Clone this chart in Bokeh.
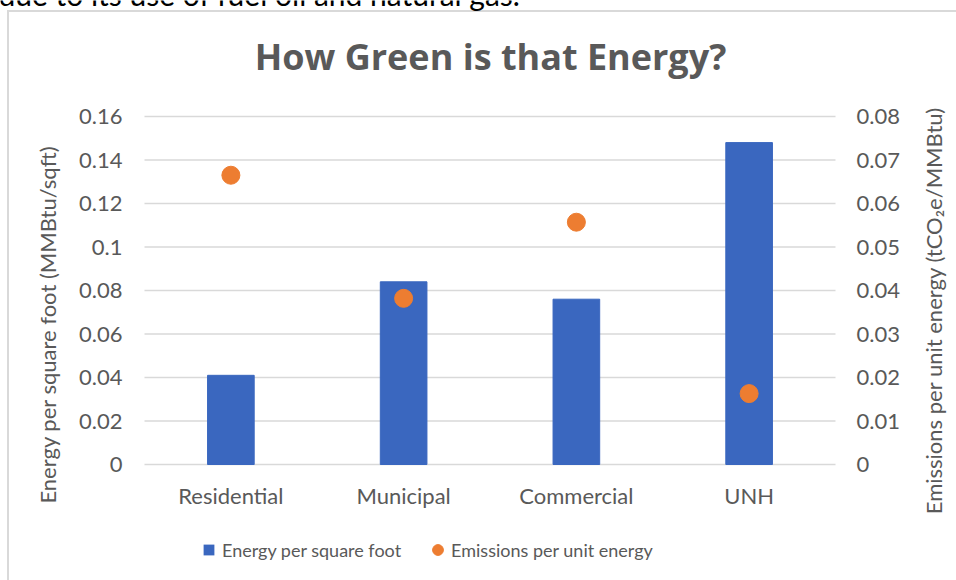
from bokeh.plotting import figure
from bokeh.models import (Range1d, LinearAxis, FixedTicker, Label, Legend, LegendItem)
from bokeh.embed import file_html
from bokeh.resources import INLINE
import math

categories = ["Residential", "Municipal", "Commercial", "UNH"]
energy = [0.041, 0.084, 0.076, 0.148]
emissions = [0.0665, 0.0382, 0.0557, 0.0163]
left_ticks = [0, 0.02, 0.04, 0.06, 0.08, 0.1, 0.12, 0.14, 0.16]
left_tick_labels = ["0", "0.02", "0.04", "0.06", "0.08", "0.1", "0.12", "0.14", "0.16"]
right_ticks = [0, 0.01, 0.02, 0.03, 0.04, 0.05, 0.06, 0.07, 0.08]
right_tick_labels = ["0", "0.01", "0.02", "0.03", "0.04", "0.05", "0.06", "0.07", "0.08"]
series_names = ["Energy per square foot", "Emissions per unit energy"]
title_text = "How Green is that Energy?"
left_title = "Energy per square foot (MMBtu/sqft)"
right_title = "Emissions per unit energy (tCO\u2082e/MMBtu)"
caption = "due to its use of fuel oil and natural gas."

FONT = "Lato"
GRAY = "#595959"
BLUE = "#3A67BF"
ORANGE = "#ED7D31"
GRID = "#D9D9D9"

# layout: the frame covers the whole canvas; the plot area spans
# x 144..835 and y 464 (value 0) .. 116 (axis maximum)
W, H = 956, 580
XL, XR, Y0, Y1 = 144, 835, 464, 116
n = len(categories)
xpos = [i + 0.5 for i in range(n)]
ppu_x = (XR - XL) / n
x_lo, x_hi = -XL / ppu_x, n + (W - XR) / ppu_x
lmax, rmax = left_ticks[-1], right_ticks[-1]
span = Y0 - Y1
y_lo, y_hi = -lmax * (H - Y0) / span, lmax * Y0 / span
r_lo, r_hi = -rmax * (H - Y0) / span, rmax * Y0 / span


def sx(px):  # canvas px -> screen units of the frame
    return px


def sy(py):
    return H - py


p = figure(width=W, height=H, x_range=Range1d(x_lo, x_hi), y_range=Range1d(y_lo, y_hi),
           output_backend="svg", toolbar_location=None,
           min_border_left=0, min_border_right=0, min_border_top=0, min_border_bottom=0)
# outer chart border (left and top edges) drawn behind a transparent canvas
p.styles = {
    "background-color": "white",
    "background-image": "linear-gradient(#d9d9d9, #d9d9d9), linear-gradient(#d9d9d9, #d9d9d9)",
    "background-size": "2px 600px, 1000px 2px",
    "background-position": "7px 10px, 7px 10px",
    "background-repeat": "no-repeat",
}
p.border_fill_alpha = 0
p.background_fill_alpha = 0
p.outline_line_color = None
p.extra_y_ranges = {"em": Range1d(r_lo, r_hi)}
p.xgrid.grid_line_color = None
p.ygrid.grid_line_color = None

# horizontal gridlines across the category area
p.segment(x0=[0] * len(left_ticks), x1=[n] * len(left_ticks), y0=left_ticks,
          y1=left_ticks, line_color=GRID, line_width=1.5)

bars = p.vbar(x=xpos, top=energy, width=0.27, fill_color=BLUE, line_color=BLUE)
dots = p.scatter(x=xpos, y=emissions, y_range_name="em", size=18,
                 fill_color=ORANGE, line_color=ORANGE)
# square swatch for the bar series in the legend (zero size on the plot itself)
sw1 = p.scatter(x=xpos, y=energy, marker="square", size=0,
                fill_color=BLUE, line_color=BLUE, line_width=0)

# x axis at value 0
p.xaxis.fixed_location = 0
p.xaxis.ticker = FixedTicker(ticks=xpos)
p.xaxis.major_label_overrides = dict(zip(xpos, categories))
p.xaxis.axis_line_color = None
p.xaxis.major_tick_line_color = None
p.xaxis.minor_tick_line_color = None
p.xaxis.major_label_text_font = FONT
p.xaxis.major_label_text_font_size = "22px"
p.xaxis.major_label_text_color = GRAY
p.xaxis.major_label_standoff = 11

# left axis at the left edge of the category area
p.yaxis.fixed_location = 0
p.yaxis.ticker = FixedTicker(ticks=left_ticks)
p.yaxis.major_label_overrides = dict(zip(left_ticks, left_tick_labels))
p.yaxis.axis_line_color = None
p.yaxis.major_tick_line_color = None
p.yaxis.minor_tick_line_color = None
p.yaxis.major_label_text_font = FONT
p.yaxis.major_label_text_font_size = "22px"
p.yaxis.major_label_text_color = GRAY
p.yaxis.major_label_standoff = 16

# right axis at the right edge of the category area
ry = LinearAxis(y_range_name="em", ticker=FixedTicker(ticks=right_ticks), fixed_location=n)
ry.major_label_overrides = dict(zip(right_ticks, right_tick_labels))
ry.axis_line_color = None
ry.major_tick_line_color = None
ry.minor_tick_line_color = None
ry.major_label_text_font = FONT
ry.major_label_text_font_size = "22px"
ry.major_label_text_color = GRAY
ry.major_label_standoff = 15
p.add_layout(ry, "right")

# texts
p.add_layout(Label(x=sx(-2), y=sy(-7), x_units="screen", y_units="screen",
                   text=caption, text_font=FONT, text_font_size="30px",
                   text_color="black", text_baseline="alphabetic"))
p.add_layout(Label(x=sx(490), y=sy(56), x_units="screen", y_units="screen",
                   text=title_text, text_font="Open Sans", text_font_size="36px",
                   text_font_style="bold", text_color=GRAY, text_align="center",
                   text_baseline="middle"))
p.add_layout(Label(x=sx(47), y=sy(324), x_units="screen", y_units="screen",
                   text=left_title, angle=math.pi / 2, text_font=FONT,
                   text_font_size="22px", text_color=GRAY, text_align="center",
                   text_baseline="middle"))
p.add_layout(Label(x=sx(933), y=sy(310), x_units="screen", y_units="screen",
                   text=right_title, angle=math.pi / 2, text_font=FONT,
                   text_font_size="22px", text_color=GRAY, text_align="center",
                   text_baseline="middle"))

legend = Legend(items=[LegendItem(label=series_names[0], renderers=[sw1]),
                       LegendItem(label=series_names[1], renderers=[dots])],
                location=(195, 17), orientation="horizontal",
                glyph_width=27, glyph_height=27, label_standoff=0, spacing=23,
                padding=0, margin=0, border_line_color=None, background_fill_alpha=0,
                label_text_font=FONT, label_text_font_size="18px",
                label_text_color=GRAY)
p.add_layout(legend)

open("out.html", "w").write(file_html(p, INLINE))
